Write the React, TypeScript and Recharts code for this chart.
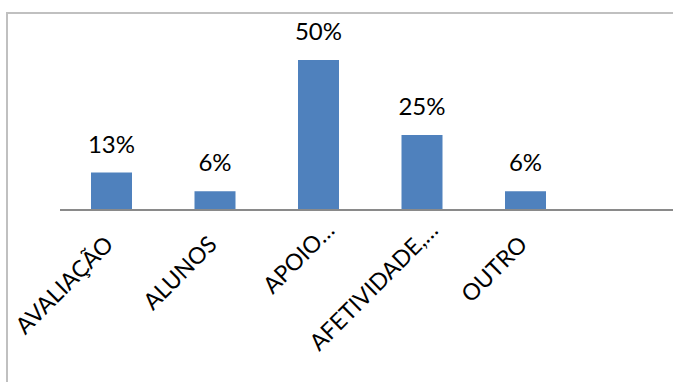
import { BarChart, Bar, XAxis, YAxis, LabelList } from 'recharts'

const categories = ['AVALIAÇÃO', 'ALUNOS', 'APOIO…', 'AFETIVIDADE,…', 'OUTRO', '']
const shares = [12.5, 6.25, 50, 25, 6.25, null]
const shareLabels = ['13%', '6%', '50%', '25%', '6%', '']

const data = categories.map((name, i) => ({
  name,
  value: shares[i],
  label: shareLabels[i]
}))

const FONT = 'Lato, "Open Sans", sans-serif'

// rotated category labels; truncated ones (with …) sit a bit further along the slant
function SlantTick(props: any) {
  const { x, y, payload } = props
  const text = String(payload.value)
  const slide = text.endsWith('…') ? 20 : 0
  const tx = x + 3 + slide * 0.707
  const ty = y + 36 - slide * 0.707
  return (
    <g transform={`translate(${tx},${ty}) rotate(-45)`}>
      <text textAnchor="end" fill="#000" fontSize={23} fontFamily={FONT}>
        {text}
      </text>
    </g>
  )
}

export default function App() {
  return (
    <div
      style={{
        position: 'absolute',
        left: 0,
        top: 0,
        width: 673,
        height: 382,
        overflow: 'hidden',
        background: '#fff'
      }}
    >
      {/* chart frame, only left and top edges are in view */}
      <div
        style={{
          position: 'absolute',
          left: 6,
          top: 12,
          width: 1000,
          height: 400,
          borderLeft: '2px solid #c0c0c0',
          borderTop: '2px solid #c0c0c0'
        }}
      />
      <div style={{ position: 'absolute', left: 0, top: 0 }}>
        <BarChart
          width={700}
          height={382}
          data={data}
          margin={{ top: 30, right: 19, bottom: 0, left: 60 }}
        >
          <YAxis hide domain={[0, 60]} />
          <XAxis
            dataKey="name"
            height={172}
            interval={0}
            tickLine={false}
            tickSize={0}
            tickMargin={0}
            axisLine={{ stroke: '#8a8a8a', strokeWidth: 2 }}
            tick={<SlantTick />}
          />
          <Bar dataKey="value" fill="#4f81bd" barSize={41} isAnimationActive={false}>
            <LabelList
              dataKey="label"
              position="top"
              offset={20}
              fill="#000"
              fontSize={24}
              fontFamily={FONT}
            />
          </Bar>
        </BarChart>
      </div>
    </div>
  )
}
